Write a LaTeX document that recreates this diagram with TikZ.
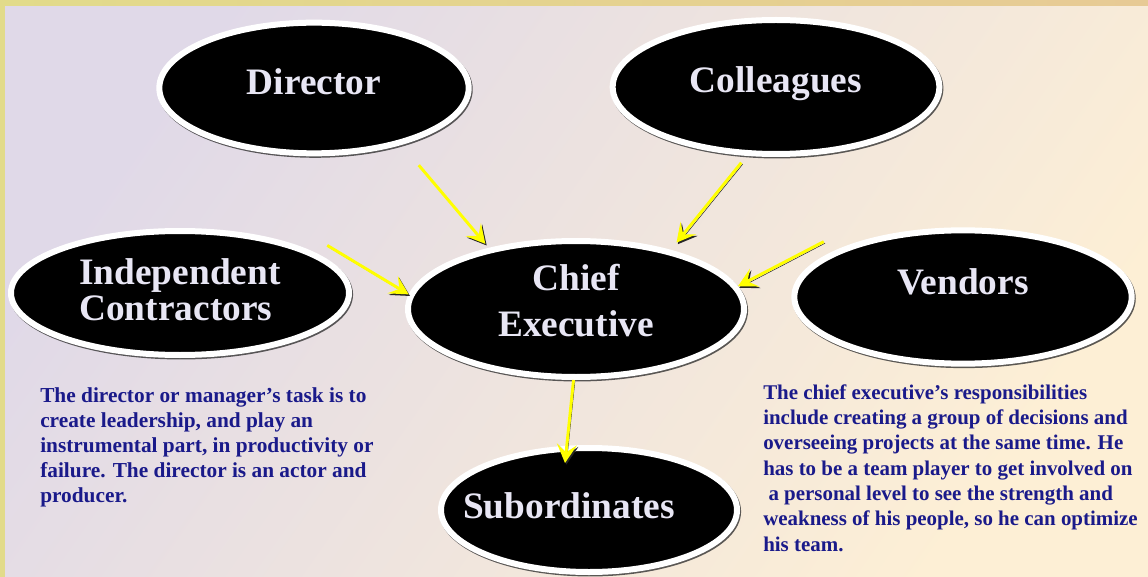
\documentclass[tikz,border=0pt]{standalone}
\usepackage{fontspec}
\setmainfont{Liberation Serif}
\usetikzlibrary{shapes.geometric,arrows.meta,shadows}
\definecolor{frame}{RGB}{226,219,138}
\definecolor{frameright}{RGB}{231,202,149}
\definecolor{lilac}{RGB}{224,217,232}
\definecolor{cream}{RGB}{253,239,213}
\definecolor{labeltext}{RGB}{232,230,244}
\definecolor{notetext}{RGB}{26,26,138}
\definecolor{arrowyellow}{RGB}{255,255,0}
\tikzset{
	role/.style={ellipse,fill=black,draw=white,line width=4.5pt,inner sep=0pt,text=labeltext,
		font=\bfseries\fontsize{28}{34}\selectfont,
		drop shadow={shadow xshift=0.8pt,shadow yshift=-1.1pt,fill=black!80,draw=black!80,line width=4.5pt,opacity=0.8}},
	note/.style={anchor=north west,inner sep=0pt,align=left,text=notetext,font=\bfseries\fontsize{16}{18.75}\selectfont},
	flow/.style={draw=arrowyellow,line width=2.2pt,-{Stealth[length=14pt,width=15pt,inset=6pt]},
		preaction={draw=black!85,transform canvas={shift={(1pt,-1.2pt)}}}}
}

\begin{document}
\begin{tikzpicture}[x=0.75pt,y=-0.75pt]
	\useasboundingbox (0,0) rectangle (1148,577);
	\fill [left color=frame,right color=frameright] (0,0) rectangle (1148,577);
	\shade [top color=lilac,bottom color=cream,shading angle=55] (5,7) rectangle (1148,577);

	\node [role,minimum width=232pt,minimum height=98pt,text depth=9.75pt] (director) at (314,88) {Director};
	\node [role,minimum width=245pt,minimum height=100.5pt,text depth=10.5pt] (colleagues) at (776,87) {Colleagues};
	\node [role,minimum width=253.5pt,minimum height=93pt,text depth=4.5pt,align=left,
		font=\bfseries\fontsize{28}{27}\selectfont] (indep) at (180,293) {Independent\\Contractors};
	\node [role,minimum width=252pt,minimum height=102pt,text depth=12.75pt,align=center] (chief) at (576,309) {Chief\\Executive};
	\node [role,minimum width=253pt,minimum height=100pt,text depth=22.5pt] (vendors) at (963,297) {Vendors};
	\node [role,minimum width=222pt,minimum height=93pt,text depth=6pt] (subs) at (589,510) {\makebox[0pt]{\hspace*{-30pt}Subordinates}};

	\node [note] (dirnote) at (40,387) {The director or manager’s task is to\\create leadership, and play an\\instrumental part, in productivity or\\failure. The director is an actor and\\producer.};
	\node [note,font=\bfseries\fontsize{15.7}{19}\selectfont] (ceonote) at (763,384) {The chief executive’s responsibilities\\include creating a group of decisions and\\overseeing projects at the same time. He\\has to be a team player to get involved on\\\ a personal level to see the strength and\\weakness of his people, so he can optimize\\his team.};

	\draw [flow,shorten <=20pt,shorten >=4pt] (director.-33) -- (chief.145);
	\draw [flow,shorten <=6.5pt,shorten >=7pt] (colleagues.247) -- (chief.32);
	\draw [flow] ([shift={(7,-10)}]indep.15) -- (chief.175);
	\draw [flow] ([shift={(4,-17)}]vendors.165) -- (chief.8);
	\draw [flow] (chief.-92) -- ([shift={(-24,18)}]subs.north);
\end{tikzpicture}
\end{document}
